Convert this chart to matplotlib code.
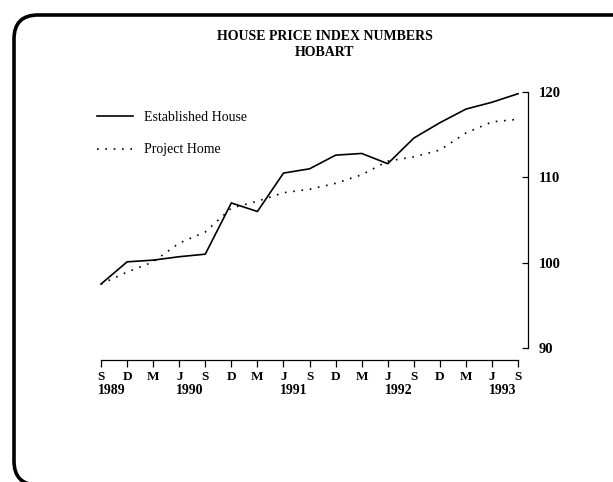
import numpy as np
import matplotlib.pyplot as plt
from matplotlib.patches import FancyBboxPatch

# Data (quarterly, Sep 1989 - Sep 1993)

months = ['S', 'D', 'M', 'J', 'S', 'D', 'M', 'J', 'S', 'D', 'M', 'J', 'S', 'D', 'M', 'J', 'S']
years = ['1989', '1990', '1991', '1992', '1993']
year_pos = [0, 3, 7, 11, 15]

established = [97.5, 100.1, 100.3, 100.7, 101.0, 107.0, 106.0, 110.5, 111.0,
               112.6, 112.8, 111.6, 114.6, 116.4, 118.0, 118.8, 119.8]
project = [97.5, 98.9, 100.1, 102.3, 103.6, 106.4, 107.2, 108.2, 108.6,
           109.3, 110.3, 111.9, 112.4, 113.2, 115.2, 116.5, 116.8]

plt.rcParams['font.family'] = ['Liberation Serif', 'DejaVu Serif']

# Figure

fig = plt.figure(figsize=(6.13, 4.82), dpi=100)

frame = FancyBboxPatch((0.14, -0.03), 6.6, 4.70,
                       boxstyle='round,pad=0,rounding_size=0.24',
                       transform=fig.dpi_scale_trans, fill=False,
                       edgecolor='black', linewidth=2.6)
fig.patches.append(frame)

ax = fig.add_axes([101 / 613, 1 - 360 / 482, 427 / 613, 268 / 482])
x = np.arange(len(months))

ax.plot(x, established, color='black', linewidth=1.2, clip_on=False,
        label='Established House')
ax.plot(x, project, color='black', linewidth=1.2, linestyle=(0, (1, 4)),
        clip_on=False, label='Project Home')

ax.set_xlim(0, 16.38)
ax.set_ylim(88.6, 120)

# Axes styling

for side in ['left', 'top']:
    ax.spines[side].set_visible(False)
ax.spines['bottom'].set_bounds(0, 16)
ax.spines['right'].set_bounds(90, 120)
ax.spines['bottom'].set_linewidth(0.9)
ax.spines['right'].set_linewidth(0.9)

ax.set_xticks(x)
ax.set_xticklabels(months, fontsize=9.5, fontweight='bold')
ax.tick_params(axis='x', direction='out', length=5, width=0.9, pad=3)

ax.yaxis.tick_right()
ax.set_yticks([90, 100, 110, 120])
ax.set_yticklabels(['90', '100', '110', '120'], fontsize=10.5, fontweight='bold')
ax.tick_params(axis='y', direction='in', length=4, width=0.9, pad=8)

for pos, yr in zip(year_pos, years):
    ax.text(pos - 0.12, -0.115, yr, transform=ax.get_xaxis_transform(),
            ha='left', va='center', fontsize=10, fontweight='bold')

# Title and legend

fig.text(325 / 613, 1 - 37 / 482, 'HOUSE PRICE INDEX NUMBERS', ha='center',
         va='center', fontsize=10, fontweight='bold')
fig.text(325 / 613, 1 - 52 / 482, 'HOBART', ha='center', va='center',
         fontsize=10, fontweight='bold')

ax.legend(loc='upper left', bbox_to_anchor=(97 / 613, 1 - 111 / 482),
          bbox_transform=fig.transFigure, frameon=False, fontsize=10,
          handlelength=2.6, handletextpad=0.8, labelspacing=1.4,
          borderpad=0, borderaxespad=0)

fig.savefig('out.png', dpi=100)
